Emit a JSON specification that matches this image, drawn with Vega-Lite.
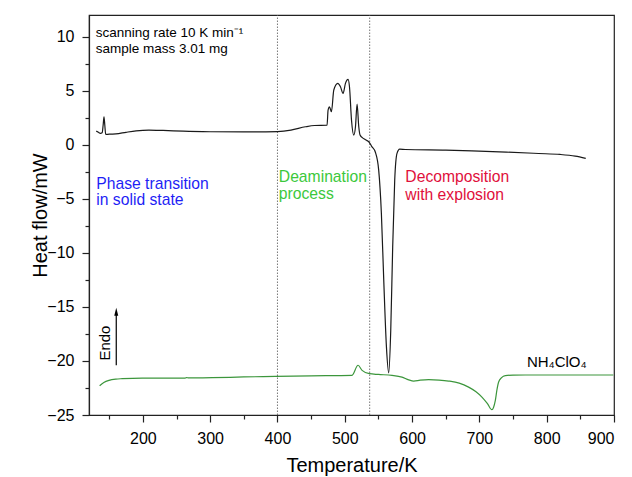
{
  "$schema": "https://vega.github.io/schema/vega-lite/v6.json",
  "width": 525,
  "height": 400,
  "autosize": "none",
  "padding": {"left": 89, "top": 15, "right": 18, "bottom": 62},
  "background": "white",
  "config": {
    "view": {"stroke": "#222", "strokeWidth": 1.2},
    "font": "Liberation Sans",
    "axis": {
      "grid": false,
      "domainColor": "#222",
      "domainWidth": 1.2,
      "tickColor": "#222",
      "tickWidth": 1.2,
      "labelFont": "Liberation Sans",
      "labelFontSize": 16,
      "labelColor": "black",
      "titleFont": "Liberation Sans",
      "titleFontSize": 20,
      "titleFontWeight": "normal",
      "titleColor": "black",
      "labelPadding": 8
    }
  },
  "datasets": {
    "curves": [
      {"T": 130.8, "hf": 1.26, "s": "a"},
      {"T": 134, "hf": 1.15, "s": "a"},
      {"T": 137, "hf": 1.05, "s": "a"},
      {"T": 139.5, "hf": 1.1, "s": "a"},
      {"T": 141, "hf": 1.8, "s": "a"},
      {"T": 142.3, "hf": 2.58, "s": "a"},
      {"T": 143.5, "hf": 1.8, "s": "a"},
      {"T": 144.8, "hf": 0.95, "s": "a"},
      {"T": 150, "hf": 0.98, "s": "a"},
      {"T": 160, "hf": 1.0, "s": "a"},
      {"T": 175, "hf": 1.15, "s": "a"},
      {"T": 190, "hf": 1.28, "s": "a"},
      {"T": 209, "hf": 1.35, "s": "a"},
      {"T": 230, "hf": 1.32, "s": "a"},
      {"T": 260, "hf": 1.25, "s": "a"},
      {"T": 300, "hf": 1.2, "s": "a"},
      {"T": 350, "hf": 1.18, "s": "a"},
      {"T": 400, "hf": 1.22, "s": "a"},
      {"T": 420, "hf": 1.35, "s": "a"},
      {"T": 441.6, "hf": 1.66, "s": "a"},
      {"T": 455, "hf": 1.78, "s": "a"},
      {"T": 473.7, "hf": 1.81, "s": "a"},
      {"T": 475.2, "hf": 3.2, "s": "a"},
      {"T": 477.2, "hf": 3.51, "s": "a"},
      {"T": 480.2, "hf": 3.05, "s": "a"},
      {"T": 483.7, "hf": 5.06, "s": "a"},
      {"T": 489.6, "hf": 5.67, "s": "a"},
      {"T": 493.6, "hf": 5.36, "s": "a"},
      {"T": 497.5, "hf": 4.75, "s": "a"},
      {"T": 501, "hf": 5.67, "s": "a"},
      {"T": 504.9, "hf": 6.04, "s": "a"},
      {"T": 507, "hf": 5.36, "s": "a"},
      {"T": 510, "hf": 2.28, "s": "a"},
      {"T": 513.4, "hf": 0.89, "s": "a"},
      {"T": 515.9, "hf": 1.66, "s": "a"},
      {"T": 518.3, "hf": 3.76, "s": "a"},
      {"T": 520.8, "hf": 1.66, "s": "a"},
      {"T": 522.7, "hf": 0.89, "s": "a"},
      {"T": 525.7, "hf": 0.68, "s": "a"},
      {"T": 531.6, "hf": 0.43, "s": "a"},
      {"T": 536, "hf": 0.25, "s": "a"},
      {"T": 540, "hf": -0.15, "s": "a"},
      {"T": 545.5, "hf": -0.7, "s": "a"},
      {"T": 550.4, "hf": -2.35, "s": "a"},
      {"T": 554.4, "hf": -6.36, "s": "a"},
      {"T": 557.9, "hf": -12.5, "s": "a"},
      {"T": 561.9, "hf": -18.7, "s": "a"},
      {"T": 565.3, "hf": -21.1, "s": "a"},
      {"T": 568.3, "hf": -17.2, "s": "a"},
      {"T": 571.2, "hf": -9.45, "s": "a"},
      {"T": 574.2, "hf": -3.28, "s": "a"},
      {"T": 577.6, "hf": -0.8, "s": "a"},
      {"T": 581.6, "hf": -0.41, "s": "a"},
      {"T": 590, "hf": -0.44, "s": "a"},
      {"T": 650, "hf": -0.5, "s": "a"},
      {"T": 689, "hf": -0.56, "s": "a"},
      {"T": 740, "hf": -0.68, "s": "a"},
      {"T": 788, "hf": -0.81, "s": "a"},
      {"T": 820, "hf": -0.9, "s": "a"},
      {"T": 842.4, "hf": -1.06, "s": "a"},
      {"T": 858, "hf": -1.27, "s": "a"},
      {"T": 135.8, "hf": -22.3, "s": "b"},
      {"T": 142, "hf": -22.0, "s": "b"},
      {"T": 149.7, "hf": -21.8, "s": "b"},
      {"T": 160, "hf": -21.68, "s": "b"},
      {"T": 169.5, "hf": -21.64, "s": "b"},
      {"T": 199, "hf": -21.58, "s": "b"},
      {"T": 263, "hf": -21.58, "s": "b"},
      {"T": 265, "hf": -21.54, "s": "b"},
      {"T": 268, "hf": -21.57, "s": "b"},
      {"T": 303, "hf": -21.55, "s": "b"},
      {"T": 350, "hf": -21.48, "s": "b"},
      {"T": 397, "hf": -21.43, "s": "b"},
      {"T": 450, "hf": -21.38, "s": "b"},
      {"T": 510.8, "hf": -21.33, "s": "b"},
      {"T": 519.7, "hf": -20.4, "s": "b"},
      {"T": 525.7, "hf": -20.87, "s": "b"},
      {"T": 536.6, "hf": -21.18, "s": "b"},
      {"T": 550, "hf": -21.25, "s": "b"},
      {"T": 570.2, "hf": -21.33, "s": "b"},
      {"T": 585, "hf": -21.49, "s": "b"},
      {"T": 595, "hf": -21.75, "s": "b"},
      {"T": 602.4, "hf": -21.86, "s": "b"},
      {"T": 612, "hf": -21.78, "s": "b"},
      {"T": 624.7, "hf": -21.73, "s": "b"},
      {"T": 640, "hf": -21.77, "s": "b"},
      {"T": 654.4, "hf": -21.86, "s": "b"},
      {"T": 670, "hf": -22.05, "s": "b"},
      {"T": 684, "hf": -22.42, "s": "b"},
      {"T": 695, "hf": -22.85, "s": "b"},
      {"T": 703.8, "hf": -23.34, "s": "b"},
      {"T": 712, "hf": -23.95, "s": "b"},
      {"T": 718.6, "hf": -24.51, "s": "b"},
      {"T": 721, "hf": -24.3, "s": "b"},
      {"T": 723.7, "hf": -23.65, "s": "b"},
      {"T": 726, "hf": -22.7, "s": "b"},
      {"T": 728.6, "hf": -21.95, "s": "b"},
      {"T": 733, "hf": -21.55, "s": "b"},
      {"T": 738.5, "hf": -21.36, "s": "b"},
      {"T": 750, "hf": -21.31, "s": "b"},
      {"T": 768.2, "hf": -21.3, "s": "b"},
      {"T": 899, "hf": -21.3, "s": "b"}
    ]
  },
  "encoding": {
    "x": {
      "field": "T", "type": "quantitative",
      "scale": {"domain": [120, 900], "nice": false, "zero": false},
      "axis": {
        "title": "Temperature/K",
        "values": [150, 200, 250, 300, 350, 400, 450, 500, 550, 600, 650, 700, 750, 800, 850, 900],
        "labelExpr": "datum.value % 100 === 0 ? datum.label : ''",
        "tickSize": {"condition": {"test": "datum.value % 100 === 0", "value": 7}, "value": 4},
        "titlePadding": 9
      }
    },
    "y": {
      "field": "hf", "type": "quantitative",
      "scale": {"domain": [-25, 12], "nice": false, "zero": false},
      "axis": {
        "title": "Heat flow/mW",
        "values": [-25, -22.5, -20, -17.5, -15, -12.5, -10, -7.5, -5, -2.5, 0, 2.5, 5, 7.5, 10],
        "labelExpr": "datum.value % 5 === 0 ? datum.label : ''",
        "tickSize": {"condition": {"test": "datum.value % 5 === 0", "value": 7}, "value": 4},
        "titlePadding": -4
      }
    }
  },
  "layer": [
    {
      "data": {"values": [{"T": 400, "hf": -25, "hf2": 12}, {"T": 537, "hf": -25, "hf2": 12}]},
      "mark": {"type": "rule", "color": "#555", "strokeWidth": 0.8, "strokeDash": [1.5, 1.5]},
      "encoding": {"y2": {"field": "hf2"}}
    },
    {
      "data": {"name": "curves"},
      "mark": {"type": "line", "strokeWidth": 1.2, "interpolate": "monotone", "clip": true},
      "encoding": {
        "color": {"field": "s", "type": "nominal", "scale": {"domain": ["a", "b"], "range": ["#1a1a1a", "#3c963c"]}, "legend": null}
      }
    },
    {
      "data": {"values": [
        {"T": 130, "hf": 9.95, "label": "scanning rate 10 K min⁻¹"},
        {"T": 130, "hf": 8.48, "label": "sample mass 3.01 mg"}
      ]},
      "mark": {"type": "text", "align": "left", "baseline": "alphabetic", "fontSize": 13.5, "color": "black"},
      "encoding": {"text": {"field": "label"}}
    },
    {
      "data": {"values": [
        {"T": 770.6, "hf": -20.56, "label": "NH₄ClO₄"}
      ]},
      "mark": {"type": "text", "align": "left", "baseline": "alphabetic", "fontSize": 15, "color": "black"},
      "encoding": {"text": {"field": "label"}}
    },
    {
      "data": {"values": [
        {"T": 130.8, "hf": -4.05, "label": "Phase transition"},
        {"T": 130.8, "hf": -5.6, "label": "in solid state"}
      ]},
      "mark": {"type": "text", "align": "left", "baseline": "alphabetic", "fontSize": 15.7, "color": "#1f1ff5"},
      "encoding": {"text": {"field": "label"}}
    },
    {
      "data": {"values": [
        {"T": 402, "hf": -3.43, "label": "Deamination"},
        {"T": 402, "hf": -4.98, "label": "process"}
      ]},
      "mark": {"type": "text", "align": "left", "baseline": "alphabetic", "fontSize": 15.7, "color": "#3cc83c"},
      "encoding": {"text": {"field": "label"}}
    },
    {
      "data": {"values": [
        {"T": 590, "hf": -3.43, "label": "Decomposition"},
        {"T": 590, "hf": -5.13, "label": "with explosion"}
      ]},
      "mark": {"type": "text", "align": "left", "baseline": "alphabetic", "fontSize": 15.7, "color": "#e0103c"},
      "encoding": {"text": {"field": "label"}}
    },
    {
      "data": {"values": [{"T": 143.7, "hf": -18.35, "label": "Endo"}]},
      "mark": {"type": "text", "align": "center", "baseline": "middle", "fontSize": 15, "angle": 270, "color": "black"},
      "encoding": {"text": {"field": "label"}}
    },
    {
      "data": {"values": [{"T": 160.5, "hf": -20.4, "hf2": -15.6}]},
      "mark": {"type": "rule", "color": "black", "strokeWidth": 1.2},
      "encoding": {"y2": {"field": "hf2"}}
    },
    {
      "data": {"values": [{"T": 160.5, "hf": -15.44}]},
      "mark": {"type": "point", "shape": "M-0.5,1L0,-1L0.5,1Z", "size": 64, "filled": true, "color": "black", "opacity": 1, "strokeWidth": 0}
    }
  ]
}
